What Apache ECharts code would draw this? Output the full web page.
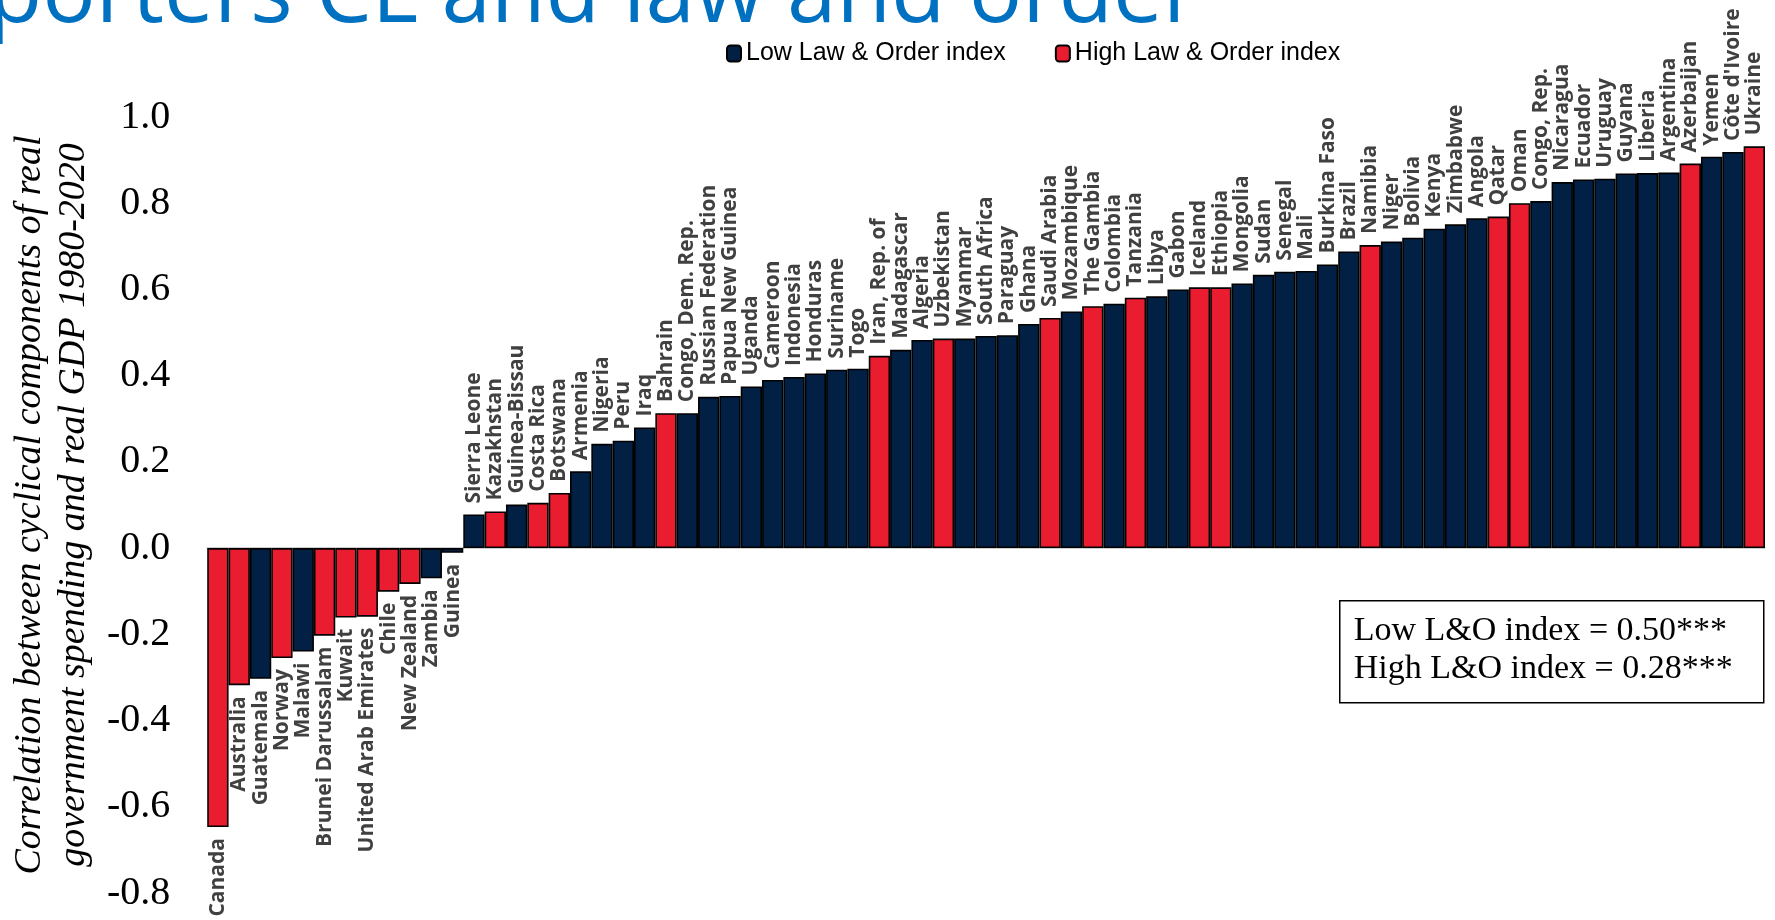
<!DOCTYPE html>
<html>
<head>
<meta charset="utf-8">
<script src="https://cdn.jsdelivr.net/npm/echarts@6/dist/echarts.min.js"></script>
<style>
html,body{margin:0;padding:0;background:#fff;}
#chart{width:1775px;height:920px;}
</style>
</head>
<body>
<div id="chart"></div>
<script>
// ---- Data ----
const countries = ["Canada","Australia","Guatemala","Norway","Malawi","Brunei Darussalam","Kuwait","United Arab Emirates","Chile","New Zealand","Zambia","Guinea","Sierra Leone","Kazakhstan","Guinea-Bissau","Costa Rica","Botswana","Armenia","Nigeria","Peru","Iraq","Bahrain","Congo, Dem. Rep.","Russian Federation","Papua New Guinea","Uganda","Cameroon","Indonesia","Honduras","Suriname","Togo","Iran, Rep. of","Madagascar","Algeria","Uzbekistan","Myanmar","South Africa","Paraguay","Ghana","Saudi Arabia","Mozambique","The Gambia","Colombia","Tanzania","Libya","Gabon","Iceland","Ethiopia","Mongolia","Sudan","Senegal","Mali","Burkina Faso","Brazil","Namibia","Niger","Bolivia","Kenya","Zimbabwe","Angola","Qatar","Oman","Congo, Rep.","Nicaragua","Ecuador","Uruguay","Guyana","Liberia","Argentina","Azerbaijan","Yemen","Côte d'Ivoire","Ukraine"];
const correlations = [-0.647,-0.318,-0.303,-0.255,-0.240,-0.203,-0.161,-0.159,-0.101,-0.083,-0.070,-0.011,0.078,0.085,0.101,0.105,0.128,0.178,0.242,0.249,0.280,0.313,0.313,0.351,0.353,0.375,0.390,0.397,0.405,0.414,0.416,0.446,0.460,0.483,0.486,0.486,0.492,0.494,0.520,0.534,0.549,0.561,0.567,0.581,0.584,0.600,0.605,0.605,0.614,0.634,0.641,0.643,0.658,0.688,0.703,0.711,0.720,0.741,0.751,0.765,0.769,0.800,0.805,0.849,0.855,0.857,0.869,0.870,0.871,0.892,0.908,0.919,0.932];
// H = High Law & Order index, L = Low Law & Order index
const lawOrderGroup = ["H","H","L","H","L","H","H","H","H","H","L","L","L","H","L","H","H","L","L","L","L","H","L","L","L","L","L","L","L","L","L","H","L","L","H","L","L","L","L","H","L","H","L","H","L","L","H","H","L","L","L","L","L","L","H","L","L","L","L","L","H","H","L","L","L","L","L","L","L","H","L","L","H"];
const seriesNames = ["Low Law & Order index","High Law & Order index"];
const yTicks = {min:-0.8, max:1.0, step:0.2};
const yAxisTitle = "Correlation between cyclical components of real\ngovernment spending and real GDP 1980-2020";
const statsLines = ["Low L&O index = 0.50***","High L&O index = 0.28***"];
const titleText = "Supporters CL and law and order";

const NAVY = "#012044";
const RED = "#E91D2F";

function buildData(groupKey){
  return correlations.map((v,i)=>{
    if(lawOrderGroup[i]!==groupKey) return '-';
    const neg = v < 0;
    return {
      value: v,
      label: neg ? {position:'bottom', align:'right'} : {position:'top', align:'left'}
    };
  });
}

const labelCommon = {
  show: true,
  rotate: 90,
  verticalAlign: 'middle',
  distance: 11,
  formatter: p => countries[p.dataIndex],
  fontFamily: 'Open Sans',
  fontWeight: 'bold',
  fontSize: 21,
  color: '#404040'
};

const chart = echarts.init(document.getElementById('chart'), null, {renderer:'canvas'});
chart.setOption({
  animation: false,
  backgroundColor: '#ffffff',
  legend: {
    top: 36,
    left: 721,
    itemWidth: 14,
    itemHeight: 16,
    itemGap: 49,
    textStyle: {fontFamily: 'Liberation Sans', fontSize: 25, color: '#000'},
    data: seriesNames
  },
  grid: {left: 207, right: 10, top: 117, bottom: 27, containLabel: false},
  xAxis: {
    type: 'category',
    data: countries,
    axisLine: {onZero: true, lineStyle: {color: '#bfbfbf', width: 1.5}},
    axisTick: {show: false},
    axisLabel: {show: false},
    splitLine: {show: false}
  },
  yAxis: {
    type: 'value',
    min: yTicks.min, max: yTicks.max, interval: yTicks.step,
    axisLine: {show: false},
    axisTick: {show: false},
    splitLine: {show: false},
    axisLabel: {
      formatter: v => v.toFixed(1),
      fontFamily: 'Liberation Serif', fontSize: 40, color: '#000', margin: 37
    },
    name: yAxisTitle,
    nameLocation: 'middle',
    nameGap: 104,
    nameTextStyle: {
      fontFamily: 'Liberation Serif', fontStyle: 'italic', fontSize: 38,
      lineHeight: 44, color: '#000'
    }
  },
  series: [
    {
      name: seriesNames[0], type: 'bar', data: buildData('L'),
      barGap: '-100%', barCategoryGap: '0%',
      itemStyle: {color: NAVY, borderColor: '#000', borderWidth: 1.6},
      label: labelCommon
    },
    {
      name: seriesNames[1], type: 'bar', data: buildData('H'),
      barGap: '-100%', barCategoryGap: '0%',
      itemStyle: {color: RED, borderColor: '#000', borderWidth: 1.6},
      label: labelCommon
    }
  ],
  graphic: [
    {
      type: 'text', left: -170, top: -48, silent: true,
      style: {text: titleText, font: '89px "Open Sans"', fill: '#0070C0'}
    },
    {
      type: 'group', left: 1339, top: 600,
      children: [
        {type: 'rect', shape: {x:0, y:0, width:424, height:102},
         style: {fill:'#fff', stroke:'#000', lineWidth:1.5}},
        {type: 'text', x: 14, y: 30,
         style: {text: statsLines[0], font: '34px "Liberation Serif"', fill:'#000', verticalAlign:'middle'}},
        {type: 'text', x: 14, y: 68,
         style: {text: statsLines[1], font: '34px "Liberation Serif"', fill:'#000', verticalAlign:'middle'}}
      ]
    }
  ]
});
</script>
</body>
</html>
